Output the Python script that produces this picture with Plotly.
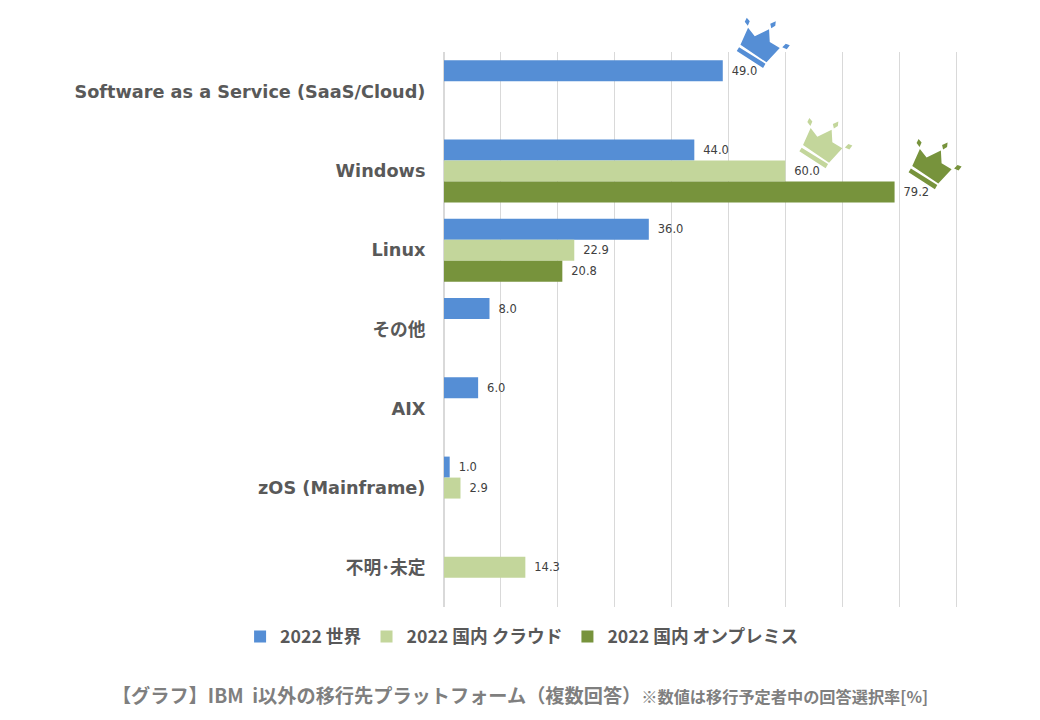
import plotly.graph_objects as go

categories = ["Software as a Service (SaaS/Cloud)", "Windows", "Linux", "その他", "AIX", "zOS (Mainframe)", "不明･未定"]
world = [49.0, 44.0, 36.0, 8.0, 6.0, 1.0, None]
jp_cloud = [None, 60.0, 22.9, None, None, 2.9, 14.3]
jp_onprem = [None, 79.2, 20.8, None, None, None, None]

series_names = ["2022 世界", "2022 国内 クラウド", "2022 国内 オンプレミス"]
series_colors = ["#558ed5", "#c3d69b", "#77933c"]
x_ticks = [0, 10, 20, 30, 40, 50, 60, 70, 80, 90]
# a bit past 90, plotly drops a gridline sitting right on the edge
x_max = 90.4

FONT = "'DejaVu Sans', 'Noto Sans CJK JP', sans-serif"
CJK = "'Noto Sans CJK JP', sans-serif"
BAR_GAP = 0.206

# margins are 0 left and right so the legend may be wider than the axis
WIDTH = 1040
x_domain = [444 / WIDTH, (444 + 514.3) / WIDTH]

# crown outline in pixels, relative to the end of the bar it sits on (y up)
crown_body = [(17.7, 26), (25.3, 43), (32, 34.3), (46.3, 41.3), (47, 28.7), (57, 22.7), (43.7, 8.3)]
crown_band = [(16.3, 23.3), (42.7, 7), (40.3, 2.7), (14, 19.7)]
crown_gems = [
    [(24, 53), (27, 49.5), (25, 45), (22, 49)],
    [(53, 49.5), (52.5, 45), (48.5, 42.5), (47.5, 47)],
    [(59.5, 23.5), (63, 27), (67, 25.5), (64, 21.5)],
]


def crown_path():
    path = ""
    for poly in [crown_body, crown_band] + crown_gems:
        path += "M" + " L".join(f"{x},{y}" for x, y in poly) + " Z "
    return path


fig = go.Figure()
all_series = [world, jp_cloud, jp_onprem]

for name, values, color in zip(series_names, all_series, series_colors):
    fig.add_trace(go.Bar(
        y=categories,
        x=values,
        name=name,
        orientation="h",
        marker=dict(color=color, line_width=0),
        text=[None if v is None else f"\u00a0\u2009{v:.1f}" for v in values],
        textposition="outside",
        textfont=dict(size=11.5, color="#404040", family=FONT),
        cliponaxis=False,
    ))

# a crown on the top value of each series, paper refs so it can leave the plot area
bar_step = (1 - BAR_GAP) / 3
for i, (values, color) in enumerate(zip(all_series, series_colors)):
    top = max(v for v in values if v is not None)
    row = values.index(top)
    fig.add_shape(
        type="path",
        xref="paper", yref="paper",
        xsizemode="pixel", ysizemode="pixel",
        xanchor=x_domain[0] + top / x_max * (x_domain[1] - x_domain[0]),
        yanchor=1 - (row + 0.5 + (i - 1) * bar_step) / len(categories),
        path=crown_path(),
        fillcolor=color,
        line_width=0,
        layer="above",
    )

fig.update_layout(
    width=WIDTH,
    height=720,
    margin=dict(l=0, r=0, t=52, b=113, autoexpand=False),
    paper_bgcolor="white",
    plot_bgcolor="white",
    barmode="group",
    bargap=BAR_GAP,
    bargroupgap=0,
    font=dict(family=FONT, color="#595959"),
    showlegend=True,
    legend=dict(
        orientation="h",
        x=0.502, xanchor="center",
        y=-0.054, yanchor="middle",
        font=dict(size=17.7, family=CJK, color="#595959", weight="bold"),
        itemclick=False,
        traceorder="normal",
    ),
    title=dict(
        text="【グラフ】IBM\u00a0 i以外の移行先プラットフォーム（複数回答）<span style='font-size:16.2px'>※数値は移行予定者中の回答選択率[%]</span>",
        x=0.5, xref="container", xanchor="center",
        y=0.033, yref="container", yanchor="middle",
        font=dict(size=19.2, family=CJK, color="#7f7f7f", weight="bold"),
    ),
)
fig.update_xaxes(
    domain=x_domain,
    range=[0, x_max],
    tickvals=x_ticks,
    showticklabels=False,
    showgrid=True,
    gridcolor="#d9d9d9",
    gridwidth=1,
    zeroline=True,
    zerolinecolor="#d9d9d9",
    showline=False,
)
fig.update_yaxes(
    autorange="reversed",
    categoryorder="array",
    categoryarray=categories,
    tickfont=dict(size=17.7, family=FONT, color="#595959", weight="bold"),
    ticks="outside",
    ticklen=14,
    tickcolor="rgba(0,0,0,0)",
    showgrid=False,
    showline=False,
    zeroline=False,
)

fig.write_html("out.html", config={"displayModeBar": False}, post_script="document.body.style.margin='0';")
